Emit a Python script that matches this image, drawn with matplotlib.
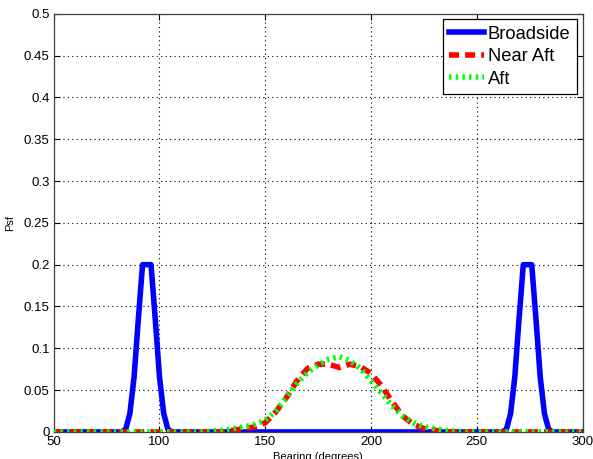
import numpy as np
import matplotlib
matplotlib.use("Agg")
import matplotlib.pyplot as plt

plt.rcParams['font.family'] = ['Liberation Sans', 'DejaVu Sans']

# Broadside: two narrow lobes, zero elsewhere
bearing_broad = [50, 82, 84, 86, 88, 90, 92, 94, 96, 98, 100, 102, 104, 106,
                 262, 264, 266, 268, 270, 272, 274, 276, 278, 280, 282, 284, 286, 300]
psf_broad = [0, 0, 0.003, 0.022, 0.066, 0.135, 0.2, 0.2, 0.2, 0.135, 0.066, 0.022, 0.003, 0,
             0, 0.003, 0.022, 0.066, 0.135, 0.2, 0.2, 0.2, 0.135, 0.066, 0.022, 0.003, 0, 0]

# Near Aft
bearing_near = [50, 130, 135, 140, 145, 150, 155, 160, 165, 170, 175, 180, 185, 190,
                195, 200, 205, 210, 215, 220, 225, 230, 235, 300]
psf_near = [0, 0, 0.002, 0.004, 0.006, 0.011, 0.024, 0.041, 0.061, 0.076, 0.081, 0.081,
            0.077, 0.081, 0.078, 0.070, 0.055, 0.036, 0.019, 0.009, 0.004, 0.002, 0, 0]

# Aft
bearing_aft = [50, 120, 125, 130, 135, 140, 145, 150, 155, 160, 165, 170, 175, 180, 185,
               190, 195, 200, 205, 210, 215, 220, 225, 230, 235, 240, 245, 300]
psf_aft = [0, 0, 0.001, 0.002, 0.004, 0.006, 0.009, 0.014, 0.025, 0.041, 0.058, 0.071,
           0.080, 0.087, 0.090, 0.085, 0.076, 0.061, 0.046, 0.031, 0.019, 0.011, 0.006,
           0.004, 0.002, 0.001, 0, 0]

xticks = [50, 100, 150, 200, 250, 300]
yticks = [0, 0.05, 0.1, 0.15, 0.2, 0.25, 0.3, 0.35, 0.4, 0.45, 0.5]
ytick_labels = ['0', '0.05', '0.1', '0.15', '0.2', '0.25', '0.3', '0.35', '0.4', '0.45', '0.5']

fig = plt.figure(figsize=(5.93, 4.59), dpi=100)
ax = fig.add_axes([0.0906, 0.059, 0.8917, 0.911])

ax.plot(bearing_broad, psf_broad, color='#0000ff', lw=4, label='Broadside', zorder=3)
ax.plot(bearing_near, psf_near, color='#ff0000', lw=4, ls=(0, (1.8, 1.1)), label='Near Aft', zorder=4)
ax.plot(bearing_aft, psf_aft, color='#00ff00', lw=4, ls=(0, (0.45, 0.75)), label='Aft', zorder=5)

ax.set_xlim(50, 300)
ax.set_ylim(0, 0.5)
ax.set_xticks(xticks)
ax.set_yticks(yticks)
ax.set_yticklabels(ytick_labels)
ax.tick_params(direction='in', top=True, right=True, length=4, labelsize=9.5, pad=3)
ax.grid(True, color='black', ls=(0, (1, 3)), lw=0.8)
for s in ax.spines.values():
    s.set_color('#404040')
    s.set_linewidth(0.9)

ax.set_xlabel('Bearing (degrees)', fontsize=8, labelpad=3)
ax.set_ylabel('Psf', fontsize=8, labelpad=6)

leg = ax.legend(loc='upper right', fontsize=13.2, handlelength=1.9, handletextpad=0.2,
                labelspacing=0.3, borderpad=0.35, borderaxespad=0.3, fancybox=False,
                framealpha=1)
leg.get_frame().set_edgecolor('black')
leg.get_frame().set_linewidth(0.9)

fig.savefig('out.png', dpi=100)
